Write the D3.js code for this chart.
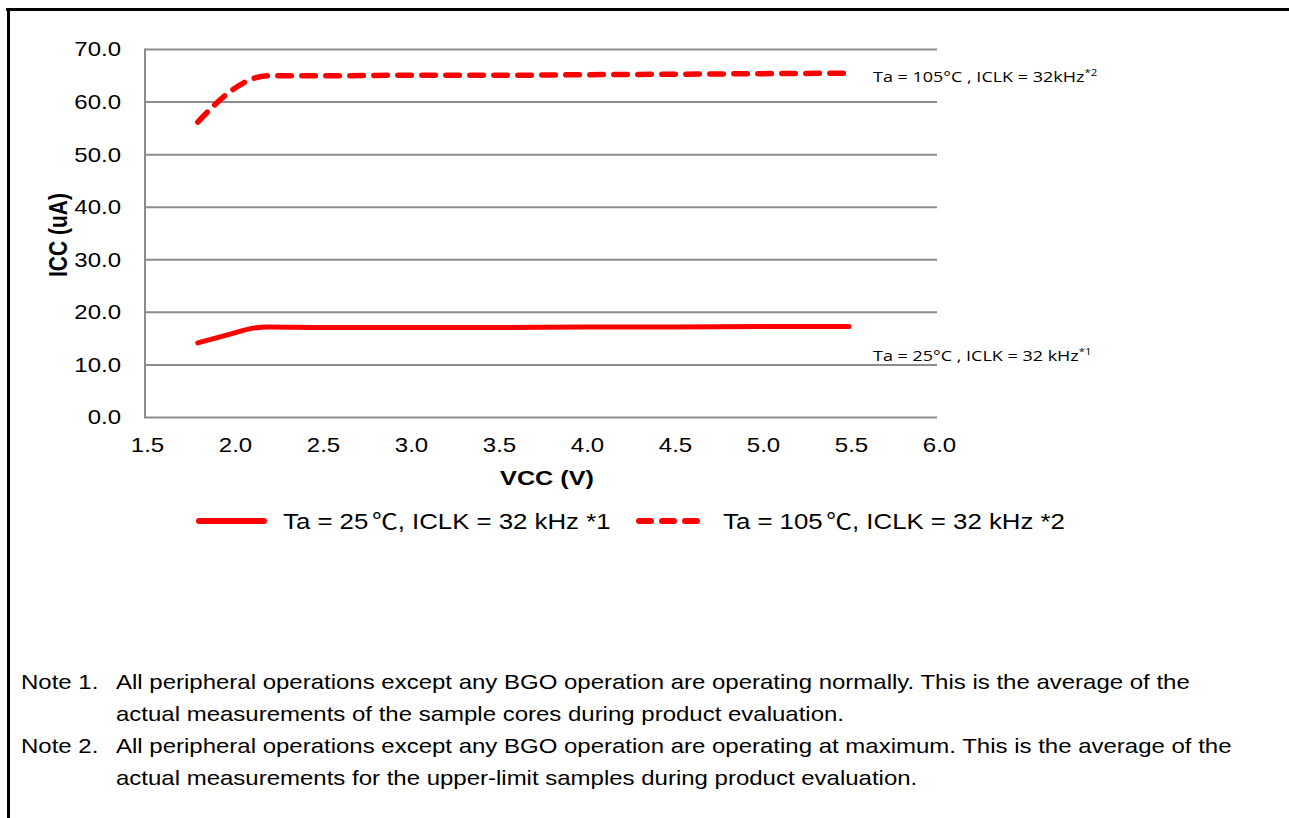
<!DOCTYPE html>
<html>
<head>
<meta charset="utf-8">
<script src="https://cdn.jsdelivr.net/npm/d3@7"></script>
<style>
  body { margin: 0; background: #fff; }
  svg { display: block; }
</style>
</head>
<body>
<script>
// data
var vcc = [1.8, 2.0, 2.1, 2.2, 2.5, 3.0, 3.5, 4.0, 4.5, 5.0, 5.5];
var icc25 = [14.2, 16.0, 16.9, 17.2, 17.1, 17.1, 17.1, 17.2, 17.2, 17.3, 17.3];
var icc105 = [56.2, 62.4, 64.3, 65.0, 65.0, 65.1, 65.1, 65.2, 65.3, 65.4, 65.5];
var xTicks = [1.5, 2.0, 2.5, 3.0, 3.5, 4.0, 4.5, 5.0, 5.5, 6.0];
var yTicks = [0, 10, 20, 30, 40, 50, 60, 70];
var legendLabels = [['Ta = 25', ', ICLK = 32 kHz *1'], ['Ta = 105', ', ICLK = 32 kHz *2']];
var notes = [
  ['Note 1.', 'All peripheral operations except any BGO operation are operating normally. This is the average of the',
   'actual measurements of the sample cores during product evaluation.'],
  ['Note 2.', 'All peripheral operations except any BGO operation are operating at maximum. This is the average of the',
   'actual measurements for the upper-limit samples during product evaluation.']
];

var W = 1289, H = 818;
var SX = 1.2; // the picture is stretched sideways
var svg = d3.select('body').append('svg')
  .attr('width', W).attr('height', H);

// frame lines (top and left)
svg.append('line').attr('x1', 6).attr('x2', W).attr('y1', 9.5).attr('y2', 9.5)
  .attr('stroke', '#000').attr('stroke-width', 3);
svg.append('line').attr('x1', 8.5).attr('x2', 8.5).attr('y1', 8).attr('y2', H)
  .attr('stroke', '#000').attr('stroke-width', 3);

var x = d3.scaleLinear().domain([1.5, 6.0]).range([145, 937]);
var y = d3.scaleLinear().domain([0, 70]).range([417.5, 49.5]);

var grey = '#8c8c8c';
var font = "'Liberation Sans', Arial, sans-serif";

// gridlines
svg.append('g').selectAll('line').data(yTicks).enter().append('line')
  .attr('x1', x(1.5)).attr('x2', x(6.0))
  .attr('y1', function(d) { return y(d); }).attr('y2', function(d) { return y(d); })
  .attr('stroke', grey).attr('stroke-width', 2);

// y axis line
svg.append('line').attr('x1', x(1.5)).attr('x2', x(1.5))
  .attr('y1', y(70) - 1).attr('y2', y(0) + 1)
  .attr('stroke', grey).attr('stroke-width', 2);

// axes for labels
var yAxis = d3.axisLeft(y).tickValues(yTicks).tickFormat(d3.format('.1f')).tickSize(0).tickPadding(0);
var gy = svg.append('g').attr('transform', 'translate(121,0)').call(yAxis);
gy.select('.domain').remove();
gy.selectAll('text').attr('font-family', font).attr('font-size', 20).attr('fill', '#000')
  .attr('transform', 'scale(' + SX + ',1)');

var xAxis = d3.axisBottom(x).tickValues(xTicks).tickFormat(d3.format('.1f')).tickSize(0).tickPadding(0);
var gx = svg.append('g').attr('transform', 'translate(2,438)').call(xAxis);
gx.select('.domain').remove();
gx.selectAll('text').attr('font-family', font).attr('font-size', 20).attr('fill', '#000')
  .attr('transform', 'scale(' + SX + ',1)');

// axis titles
svg.append('text').attr('transform', 'translate(67,235) scale(' + SX + ',1) rotate(-90)')
  .attr('text-anchor', 'middle').attr('font-family', font).attr('font-weight', 'bold')
  .attr('font-size', 21).text('ICC (uA)');
svg.append('text').attr('transform', 'translate(547,485) scale(' + SX + ',1)')
  .attr('text-anchor', 'middle').attr('font-family', font).attr('font-weight', 'bold')
  .attr('font-size', 21).text('VCC (V)');

// lines
var line = d3.line()
  .x(function(d) { return x(d[0]); })
  .y(function(d) { return y(d[1]); })
  .curve(d3.curveMonotoneX);

svg.append('path').datum(d3.zip(vcc, icc25))
  .attr('d', line).attr('fill', 'none').attr('stroke', '#ff0000')
  .attr('stroke-width', 5).attr('stroke-linecap', 'round').attr('stroke-linejoin', 'round');

svg.append('path').datum(d3.zip(vcc, icc105))
  .attr('d', line).attr('fill', 'none').attr('stroke', '#ff0000')
  .attr('stroke-width', 5.5).attr('stroke-linecap', 'round')
  .attr('stroke-dasharray', '13.5,10.5');

// end labels
var annFont = "'Open Sans', 'DejaVu Sans', sans-serif";
function endLabel(xp, yp, main, sup) {
  var t = svg.append('text').attr('transform', 'translate(' + xp + ',' + yp + ') scale(' + SX + ',1)')
    .attr('font-family', annFont).attr('font-size', 15).attr('fill', '#000');
  t.append('tspan').text(main);
  t.append('tspan').attr('font-size', 9.5).attr('dy', -6).text(sup);
}
endLabel(873, 82, 'Ta = 105\u00b0C , ICLK = 32kHz', '*2');
endLabel(873, 361, 'Ta = 25\u00b0C , ICLK = 32 kHz', '*1');

// legend
function legendText(xp, parts) {
  var t = svg.append('text').attr('transform', 'translate(' + xp + ',529) scale(' + SX + ',1)')
    .attr('font-family', font).attr('font-size', 21.5).attr('fill', '#000');
  t.append('tspan').text(parts[0]);
  t.append('tspan').attr('font-family', "'Noto Sans CJK JP', sans-serif").attr('dx', 3).text('\u2103');
  t.append('tspan').text(parts[1]);
}
svg.append('line').attr('x1', 199).attr('x2', 264).attr('y1', 521).attr('y2', 521)
  .attr('stroke', '#ff0000').attr('stroke-width', 6).attr('stroke-linecap', 'round');
legendText(283, legendLabels[0]);
svg.append('line').attr('x1', 639).attr('x2', 698).attr('y1', 521).attr('y2', 521)
  .attr('stroke', '#ff0000').attr('stroke-width', 6).attr('stroke-linecap', 'round')
  .attr('stroke-dasharray', '12,11');
legendText(723, legendLabels[1]);

// notes
function noteText(xp, yp, s) {
  svg.append('text').attr('transform', 'translate(' + xp + ',' + yp + ') scale(' + SX + ',1)')
    .attr('font-family', font).attr('font-size', 20).attr('fill', '#000').text(s);
}
notes.forEach(function(n, i) {
  var by = 689 + i * 64;
  noteText(21, by, n[0]);
  noteText(116, by, n[1]);
  noteText(116, by + 32, n[2]);
});
</script>
</body>
</html>
